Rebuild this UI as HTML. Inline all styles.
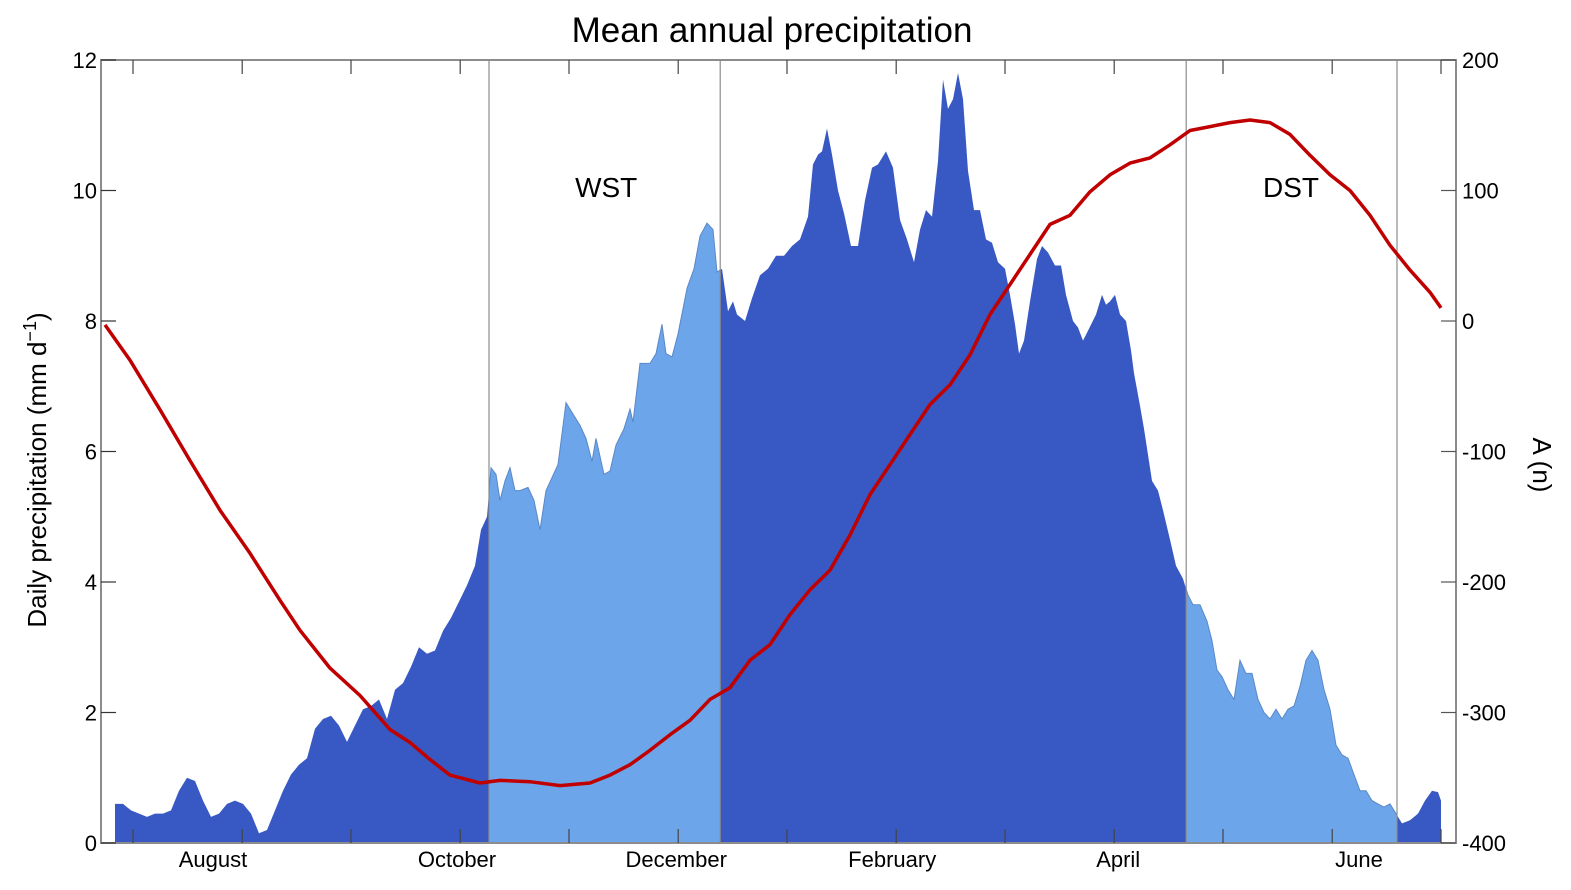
<!DOCTYPE html>
<html><head><meta charset="utf-8">
<style>
body{margin:0;background:#fff;}
svg{display:block;font-family:"Liberation Sans",sans-serif;}
</style></head>
<body>
<svg id="chart" width="1571" height="890" viewBox="0 0 1571 890" xmlns="http://www.w3.org/2000/svg">
<text x="772" y="42" font-size="35" text-anchor="middle" fill="#000">Mean annual precipitation</text>
<text transform="translate(46,470) rotate(-90)" font-size="26" text-anchor="middle" fill="#000">Daily precipitation  (mm d<tspan dy="-10" font-size="18">−1</tspan><tspan dy="10">)</tspan></text>
<text transform="translate(1533,465) rotate(90)" font-size="26" text-anchor="middle" fill="#000">A (n)</text>
<g id="marks"></g>
</svg>
<script>
const precipDays=[3.5,5.5,7.5,9.5,11.5,13.5,15.5,17.5,19.5,21.5,23.5,25.5,27.5,29.5,31.5,33.5,35.5,37.5,39.5,41.5,43.5,45.5,47.5,49.5,51.5,53.5,55.5,57.5,59.5,61.5,63.5,65.5,67.5,69.5,71.5,73.5,75.5,77.5,79.5,81.5,83.5,85.5,87.5,89.5,91.5,93.5,95,96.5,97.5,98.75,99.75,101,102.25,103.5,104.75,106.75,108.25,109.75,111.25,112.75,114.25,116.25,118.25,119.75,121.25,122.75,123.75,125.75,127.25,128.75,130.75,132.25,133,134.75,137.25,138.75,140.25,141.25,142.75,144.25,146.5,148.25,149.75,151.5,153,154,155.25,156.75,158,159,161,162.75,164.75,166.75,168.75,170.75,172.75,174.75,176.75,178,179.25,180.25,181.5,182.75,184.25,185.75,187.5,189.25,191,192.75,194.25,196.25,198,199.75,201.5,203.25,204.75,206.25,207.75,209.25,210.5,211.75,213,214.25,215.5,216.75,218.25,219.75,221.25,222.75,224.25,226,227.25,228.5,229.5,230.75,232.25,234,235.25,236.75,238.5,240,241.25,243,244.25,245.5,246.75,248.75,250.25,251.25,252.25,253.5,254.75,256.25,257.5,258.25,259.75,260.75,261.75,262.75,264.25,265.5,267.25,268.75,270.5,271.75,273,274.75,276.5,277.75,279,280.25,281.75,283.25,284.75,286.25,287.75,289.25,290.75,292.25,293.75,295.25,296.75,298.25,299.75,301.25,302.75,304.25,305.75,307.25,308.75,310.25,311.75,313.25,314.75,316.25,317.75,319.25,320.75,322.25,323.75,325.25,327.25,329.25,331,332.75,334.25,335];
const precipValues=[0.6,0.6,0.5,0.45,0.4,0.45,0.45,0.5,0.8,1.0,0.95,0.65,0.4,0.45,0.6,0.65,0.6,0.45,0.15,0.2,0.5,0.8,1.05,1.2,1.3,1.75,1.9,1.95,1.8,1.55,1.8,2.05,2.1,2.2,1.9,2.35,2.45,2.7,3.0,2.9,2.95,3.25,3.45,3.7,3.95,4.25,4.8,5.0,5.75,5.65,5.25,5.55,5.75,5.4,5.4,5.45,5.25,4.8,5.4,5.6,5.8,6.75,6.55,6.4,6.2,5.85,6.2,5.65,5.7,6.1,6.35,6.65,6.45,7.35,7.35,7.5,7.95,7.5,7.45,7.8,8.5,8.8,9.3,9.5,9.4,8.75,8.8,8.15,8.3,8.1,8.0,8.35,8.7,8.8,9.0,9.0,9.15,9.25,9.6,10.4,10.55,10.6,10.95,10.55,10.0,9.65,9.15,9.15,9.85,10.35,10.4,10.6,10.35,9.55,9.25,8.9,9.4,9.7,9.6,10.45,11.7,11.25,11.4,11.8,11.4,10.3,9.7,9.7,9.25,9.2,8.9,8.8,8.4,7.95,7.5,7.7,8.3,8.95,9.15,9.05,8.85,8.85,8.4,8.0,7.9,7.7,7.85,8.1,8.4,8.25,8.3,8.4,8.1,8.0,7.55,7.2,6.7,6.35,5.95,5.55,5.4,5.1,4.65,4.25,4.05,3.8,3.65,3.65,3.4,3.1,2.65,2.55,2.35,2.2,2.8,2.6,2.6,2.2,2.0,1.9,2.05,1.9,2.05,2.1,2.4,2.8,2.95,2.8,2.35,2.05,1.5,1.35,1.3,1.05,0.8,0.8,0.65,0.6,0.55,0.6,0.45,0.3,0.35,0.45,0.65,0.8,0.78,0.65];
const anomalyDays=[1,7.25,14.75,22.25,29.75,37.25,44.75,49.75,57.25,64.75,72.25,77.25,82.25,87.25,94.75,99.75,107.25,114.75,122.25,127.25,132.25,137.25,142.25,147.25,152.25,157.25,162.25,167.25,172.25,177.25,182.25,187.25,192.25,197.25,202.25,207.25,212.25,217.25,222.25,227.25,232.25,237.25,242.25,247.25,252.25,257.25,262.25,267.25,272.25,277.25,282.25,287.25,292.25,297.25,302.25,307.25,312.25,317.25,322.25,327.25,332.25,335];
const anomalyValues=[-3,-30,-68,-107,-145,-178,-214,-237,-266,-287,-313,-323,-336,-348,-354,-352,-353,-356,-354,-348,-340,-329,-317,-306,-290,-281,-260,-248,-225,-206,-191,-164,-133,-110,-87,-64,-49,-26,5,28,51,74,81,99,112,121,125,135,146,149,152,154,152,143,127,112,100,81,58,39,22,10];
const monthLabels=['August','October','December','February','April','June'];
const monthDays=[28,89,143.8,197.8,254.3,314.5];
const seasonBounds=[[97,154.8],[271.3,324]];
const seasonLabels=['WST','DST'];
const seasonLabelDays=[126.3,297.5];
const leftTicks=[0,2,4,6,8,10,12];
const rightTicks=[-400,-300,-200,-100,0,100,200];
const minorTickDays=[8,35.3,62.5,89.8,117,144.3,171.5,198.8,226,253.3,280.5,307.8,335];

const L=101,R=1456,T=60,B=843;
const x=d=>L+d*4;
const y=v=>B-(v/12)*(B-T);
const y2=v=>T+((200-v)/600)*(B-T);
const NS='http://www.w3.org/2000/svg';
const g=document.getElementById('marks');
function mk(tag,attrs,parent){const e=document.createElementNS(NS,tag);for(const k in attrs)e.setAttribute(k,attrs[k]);(parent||g).appendChild(e);return e;}

const n=Math.min(precipDays.length,precipValues.length);
let d='M'+x(precipDays[0])+','+y(0);
for(let i=0;i<n;i++){d+=' L'+x(precipDays[i]).toFixed(1)+','+y(precipValues[i]).toFixed(1);}
d+=' L'+x(precipDays[n-1])+','+y(0)+' Z';

const defs=mk('defs',{});
seasonBounds.forEach((s,i)=>{
  const cp=mk('clipPath',{id:'clip'+i},defs);
  mk('rect',{x:x(s[0]),y:T,width:x(s[1])-x(s[0]),height:B-T},cp);
});
const area=mk('path',{d:d,fill:'#3858c4'});


seasonBounds.forEach((s,i)=>{
  const p=mk('path',{d:d,fill:'#6ca5ea',stroke:'#5a88c8','stroke-width':1,'clip-path':'url(#clip'+i+')'});
  
  
});
seasonBounds.forEach(s=>{s.forEach(b=>{
  const l=mk('line',{x1:x(b),x2:x(b),y1:T,y2:B,stroke:'#8c8c8c','stroke-width':1.2});
  
  
});});
seasonLabels.forEach((s,i)=>{
  const t=mk('text',{x:x(seasonLabelDays[i]),y:197,'font-size':28,'text-anchor':'middle',fill:'#000'});
  t.textContent=s;
  
  
});
const m=Math.min(anomalyDays.length,anomalyValues.length);
let ld='';
for(let i=0;i<m;i++){ld+=(i?' L':'M')+x(anomalyDays[i]).toFixed(1)+','+y2(anomalyValues[i]).toFixed(1);}
const line=mk('path',{d:ld,fill:'none',stroke:'#c00000','stroke-width':3.5,'stroke-linejoin':'round'});



const frame=mk('rect',{x:L,y:T,width:R-L,height:B-T,fill:'none',stroke:'#8c8c8c','stroke-width':2});


leftTicks.forEach(v=>{
  const tk=mk('line',{x1:L,x2:L+15,y1:y(v),y2:y(v),stroke:'#333','stroke-width':1.2});
  
  
  const t=mk('text',{x:L-4,y:y(v)+8,'font-size':22,'text-anchor':'end',fill:'#000'});
  t.textContent=v;
  
  
});
rightTicks.forEach(v=>{
  const tk=mk('line',{x1:R-15,x2:R,y1:y2(v),y2:y2(v),stroke:'#555','stroke-width':1.2});
  
  
  const t=mk('text',{x:R+6,y:y2(v)+8,'font-size':22,'text-anchor':'start',fill:'#000'});
  t.textContent=v;
  
  
});
minorTickDays.forEach(v=>{
  const a=mk('line',{x1:x(v),x2:x(v),y1:T,y2:T+14,stroke:'#444','stroke-width':1.2});
  
  
  const b=mk('line',{x1:x(v),x2:x(v),y1:B-14,y2:B,stroke:'#444','stroke-width':1.2});
  
  
});
monthLabels.forEach((mo,i)=>{
  const t=mk('text',{x:x(monthDays[i]),y:867,'font-size':22,'text-anchor':'middle',fill:'#000'});
  t.textContent=mo;
  
  
});
</script>
</body></html>
